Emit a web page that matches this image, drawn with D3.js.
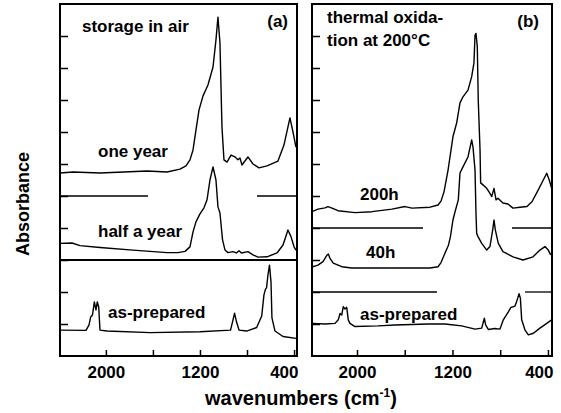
<!DOCTYPE html>
<html>
<head>
<meta charset="utf-8">
<script src="https://cdn.jsdelivr.net/npm/d3@7/dist/d3.min.js"></script>
<style>
  body { margin: 0; background: #fff; }
  svg { display: block; font-family: "Liberation Sans", Arial, Helvetica, sans-serif; font-weight: bold; }
</style>
</head>
<body>
<div id="chart"></div>
<script>
// IR spectra, [wavenumber (cm-1), absorbance (arb. units, offset)]
// panel (a): storage in air
const oneYear = [
  [2390, 5.72], [2279, 5.75], [2050, 5.72], [1650, 5.78], [1480, 5.75], [1370, 5.84],
  [1319, 5.94], [1285, 6.13], [1259, 6.44], [1234, 7.06], [1208, 7.69], [1174, 8.13],
  [1132, 8.47], [1089, 9.03], [1064, 9.88], [1047, 10.59], [1030, 9.78], [1013, 7.16],
  [996, 6.13], [970, 6.06], [936, 6.28], [902, 6.22], [877, 6.13], [860, 6.19],
  [843, 5.97], [792, 6.22], [749, 6.0], [698, 5.88], [630, 5.94], [537, 6.09],
  [486, 6.59], [435, 7.44], [409, 7.0], [384, 6.53]
];
const halfYear = [
  [2390, 3.52], [2288, 3.53], [2220, 3.45], [2050, 3.39], [1769, 3.31], [1480, 3.23],
  [1387, 3.23], [1327, 3.27], [1285, 3.41], [1259, 3.88], [1234, 4.19], [1200, 4.44],
  [1166, 4.63], [1140, 4.88], [1115, 5.5], [1089, 5.91], [1064, 5.5], [1047, 4.66],
  [1030, 4.47], [1008, 3.63], [987, 3.31], [962, 3.23], [919, 3.26], [890, 3.22],
  [868, 3.29], [847, 3.22], [792, 3.26], [749, 3.16], [707, 3.09], [630, 3.10],
  [545, 3.22], [494, 3.47], [452, 3.94], [426, 3.73], [401, 3.42], [384, 3.31]
];
const asPreparedA = [
  [2390, 0.81], [2169, 0.80], [2143, 0.97], [2129, 1.22], [2114, 1.28], [2098, 1.69],
  [2084, 1.44], [2073, 1.69], [2061, 1.53], [2050, 0.81], [1990, 0.78], [1625, 0.73],
  [1200, 0.76], [940, 0.81], [919, 1.13], [906, 1.34], [889, 1.06], [868, 0.81],
  [803, 0.78], [718, 0.89], [675, 1.25], [656, 1.91], [643, 2.09], [634, 2.13],
  [622, 2.53], [609, 2.84], [596, 2.31], [588, 1.19], [562, 0.78], [494, 0.61], [384, 0.55]
];
// panel (b): thermal oxidation at 200 °C
const h200 = [
  [2377, 4.51], [2327, 4.59], [2268, 4.63], [2243, 4.67], [2209, 4.62], [2159, 4.54],
  [2017, 4.48], [1874, 4.51], [1707, 4.59], [1598, 4.67], [1539, 4.62], [1388, 4.65],
  [1321, 4.72], [1296, 4.84], [1271, 5.13], [1237, 5.81], [1196, 6.85], [1165, 7.28],
  [1137, 7.91], [1112, 8.1], [1070, 8.31], [1039, 8.73], [1020, 9.16], [1011, 10.03],
  [1003, 10.08], [992, 9.67], [984, 8.0], [969, 6.44], [964, 5.41], [942, 5.34],
  [913, 5.24], [886, 5.08], [871, 4.98], [852, 5.24], [835, 4.88], [819, 4.93],
  [777, 4.78], [735, 4.75], [693, 4.62], [634, 4.65], [576, 4.67], [534, 4.82],
  [481, 5.19], [439, 5.5], [410, 5.71], [389, 5.5], [369, 5.24]
];
const h40 = [
  [2377, 2.78], [2327, 2.84], [2285, 2.95], [2254, 3.14], [2240, 3.19], [2226, 3.05],
  [2199, 2.90], [2128, 2.79], [2044, 2.75], [1388, 2.75], [1321, 2.79], [1296, 2.92],
  [1263, 3.21], [1233, 3.47], [1217, 3.73], [1196, 4.25], [1179, 4.5], [1151, 4.88],
  [1137, 5.72], [1112, 5.91], [1070, 6.22], [1039, 6.75], [1028, 6.53], [1011, 5.81],
  [1003, 4.47], [997, 3.83], [986, 3.73], [955, 3.52], [913, 3.31], [886, 3.42],
  [863, 3.94], [852, 4.25], [841, 3.94], [816, 3.52], [777, 3.26], [693, 3.1],
  [609, 3.0], [525, 3.1], [467, 3.31], [425, 3.42], [397, 3.31], [377, 3.16]
];
const asPreparedB = [
  [2377, 1.02], [2268, 1.0], [2184, 1.02], [2157, 1.13], [2142, 1.33], [2128, 1.28],
  [2115, 1.54], [2101, 1.47], [2086, 1.52], [2073, 1.13], [2059, 1.02], [2017, 0.92],
  [1824, 0.94], [1682, 0.97], [1405, 1.0], [1263, 1.0], [1123, 0.94], [1011, 0.84],
  [955, 0.87], [933, 1.18], [922, 0.97], [900, 0.83], [844, 0.86], [802, 0.84],
  [774, 1.13], [732, 1.38], [710, 1.52], [690, 1.54], [676, 1.56], [662, 1.7],
  [642, 1.95], [631, 1.81], [620, 1.13], [592, 0.81], [564, 0.66], [522, 0.71],
  [467, 0.87], [410, 1.02], [369, 1.13]
];

// baseline separators [absorbance, from wavenumber, to wavenumber]
const cutsA = [[5, 2390, 1642], [5, 715, 375], [3, 2390, 375]];
const cutsB = [[4, 2377, 1447], [4, 701, 366], [2, 2377, 1330], [2, 592, 366]];

const xTickValues = [2000, 1600, 1200, 800, 400];
const xTickLabels = { 2000: "2000", 1200: "1200", 400: "400" };
const yTickValues = [1, 2, 3, 4, 5, 6, 7, 8, 9, 10];

const labelsA = ["storage in air", "one year", "half a year", "as-prepared"];
const labelsB = ["thermal oxida-", "tion at 200°C", "200h", "40h", "as-prepared"];

const plotTop = 4, plotBottom = 356;

const y = d3.scaleLinear().domain([0, 11]).range([plotBottom, plotTop]);

const panels = [
  {
    name: "(a)",
    nameX: 288,
    x: d3.scaleLinear().domain([2390, 375]).range([60, 297]),
    series: [oneYear, halfYear, asPreparedA],
    cuts: cutsA,
    labels: labelsA,
    labelPos: [[82, 32], [98, 157], [98, 237], [108, 318]]
  },
  {
    name: "(b)",
    nameX: 539,
    x: d3.scaleLinear().domain([2377, 366]).range([312, 552]),
    series: [h200, h40, asPreparedB],
    cuts: cutsB,
    labels: labelsB,
    labelPos: [[327, 23], [327, 46], [360, 200], [366, 258], [360, 320]]
  }
];

const svg = d3.select("#chart").append("svg")
    .attr("width", 561)
    .attr("height", 413);

panels.forEach((p, i) => {
  const [x0, x1] = p.x.range();
  const g = svg.append("g");

  g.append("clipPath").attr("id", "clip" + i)
    .append("rect")
    .attr("x", x0).attr("y", plotTop)
    .attr("width", x1 - x0).attr("height", plotBottom - plotTop);

  // inward ticks
  const xAxis = g.append("g")
      .attr("transform", `translate(0,${plotBottom})`)
      .call(d3.axisBottom(p.x)
        .tickValues(xTickValues)
        .tickSize(-6)
        .tickPadding(10)
        .tickFormat(d => xTickLabels[d] || ""));
  xAxis.select(".domain").remove();
  xAxis.selectAll("line").attr("stroke-width", 1.5);
  xAxis.selectAll("text")
      .attr("font-size", 17)
      .attr("font-family", "Liberation Sans, Arial, sans-serif")
      .attr("font-weight", "bold")
      .attr("fill", "#000")
      .filter(d => d === 400)
      .attr("text-anchor", "end")
      .attr("x", x1 - p.x(400) + 1);

  const yAxis = g.append("g")
      .attr("transform", `translate(${x0},0)`)
      .call(d3.axisLeft(y).tickValues(yTickValues).tickSize(-8).tickFormat(""));
  yAxis.select(".domain").remove();
  yAxis.selectAll("line").attr("stroke-width", 1.5);

  const body = g.append("g").attr("clip-path", `url(#clip${i})`);

  body.selectAll(".cut")
    .data(p.cuts)
    .join("line")
      .attr("x1", d => p.x(d[1]))
      .attr("x2", d => p.x(d[2]))
      .attr("y1", d => y(d[0]))
      .attr("y2", d => y(d[0]))
      .attr("stroke", "#000")
      .attr("stroke-width", d => (d[1] === p.x.domain()[0] && d[2] === p.x.domain()[1]) ? 2 : 1.3);

  const line = d3.line()
      .x(d => p.x(d[0]))
      .y(d => y(d[1]));

  body.selectAll(".spec")
    .data(p.series)
    .join("path")
      .attr("d", line)
      .attr("fill", "none")
      .attr("stroke", "#000")
      .attr("stroke-width", 1.4)
      .attr("stroke-linejoin", "round");

  g.append("rect")
      .attr("x", x0).attr("y", plotTop)
      .attr("width", x1 - x0).attr("height", plotBottom - plotTop)
      .attr("fill", "none")
      .attr("stroke", "#000")
      .attr("stroke-width", 2);

  g.selectAll(".lbl")
    .data(p.labels)
    .join("text")
      .attr("x", (d, k) => p.labelPos[k][0])
      .attr("y", (d, k) => p.labelPos[k][1])
      .attr("font-size", 17)
      .text(d => d);

  g.append("text")
      .attr("x", p.nameX)
      .attr("y", 27)
      .attr("text-anchor", "end")
      .attr("font-size", 17)
      .text(p.name);
});

svg.append("text")
    .attr("transform", "translate(29,204) rotate(-90)")
    .attr("text-anchor", "middle")
    .attr("font-size", 18)
    .text("Absorbance");

const xl = svg.append("text")
    .attr("x", 301)
    .attr("y", 405)
    .attr("text-anchor", "middle")
    .attr("font-size", 20);
xl.append("tspan").text("wavenumbers (cm");
xl.append("tspan").attr("font-size", 12).attr("dy", -8).text("-1");
xl.append("tspan").attr("dy", 8).text(")");
</script>
</body>
</html>
